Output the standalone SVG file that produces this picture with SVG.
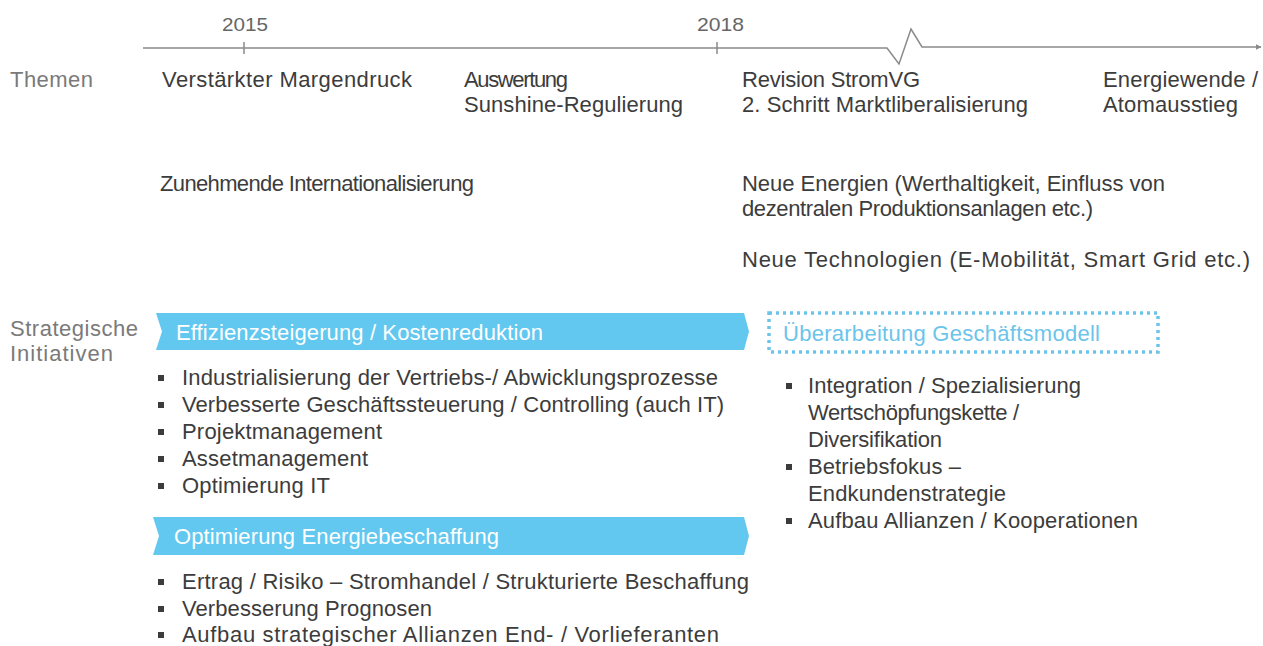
<svg xmlns="http://www.w3.org/2000/svg" width="1263" height="646" viewBox="0 0 1263 646">
<defs>
<style>
text{font-family:"Liberation Sans",Arial,sans-serif;font-size:22px;fill:#3c3c3c}
.lbl{fill:#7a7a7a}
.yr{font-size:19px;fill:#666}
.band{fill:#62c8f0}
.bt{fill:#ffffff}
.dt{fill:#6cc4ea}
.bul{fill:#3c3c3c}
.axis{stroke:#8a8a8a;stroke-width:1.5;fill:none}
</style>
<marker id="arr" viewBox="0 0 10 10" refX="9" refY="5" markerWidth="6" markerHeight="6" orient="auto" markerUnits="userSpaceOnUse">
<path d="M0,0 L10,5 L0,10 z" fill="#8a8a8a"/>
</marker>
</defs>
<rect width="1263" height="646" fill="#ffffff"/>

<g id="timeline">
<path class="axis" d="M143,48 L887,48 L899,64 L911,29 L922,47 L1261,47" marker-end="url(#arr)"/>
<line class="axis" x1="244" y1="42" x2="244" y2="54"/>
<line class="axis" x1="717" y1="42" x2="717" y2="54"/>
<text class="yr" x="222" y="31" textLength="46" lengthAdjust="spacingAndGlyphs">2015</text>
<text class="yr" x="697" y="31" textLength="47" lengthAdjust="spacingAndGlyphs">2018</text>
</g>

<g id="themen-label"><text class="lbl" x="10" y="87" textLength="83">Themen</text></g>
<g id="t-margendruck"><text x="162" y="87" textLength="250">Verstärkter Margendruck</text></g>
<g id="t-sunshine">
<text x="464" y="87" textLength="104">Auswertung</text>
<text x="464" y="112" textLength="219">Sunshine-Regulierung</text>
</g>
<g id="t-stromvg">
<text x="742" y="87" textLength="178">Revision StromVG</text>
<text x="742" y="112" textLength="286">2. Schritt Marktliberalisierung</text>
</g>
<g id="t-energiewende">
<text x="1103" y="87" textLength="155">Energiewende /</text>
<text x="1103" y="112" textLength="135">Atomausstieg</text>
</g>
<g id="t-international"><text x="160" y="191" textLength="314">Zunehmende Internationalisierung</text></g>
<g id="t-energien">
<text x="742" y="191" textLength="423">Neue Energien (Werthaltigkeit, Einfluss von</text>
<text x="742" y="216" textLength="351">dezentralen Produktionsanlagen etc.)</text>
</g>
<g id="t-technologien"><text x="742" y="267" textLength="508">Neue Technologien (E-Mobilität, Smart Grid etc.)</text></g>

<g id="si-label">
<text class="lbl" x="10" y="336" textLength="128">Strategische</text>
<text class="lbl" x="10" y="361" textLength="103">Initiativen</text>
</g>

<g id="init-effizienz">
<path class="band" d="M156,313 L744,313 L749,331.5 L744,350 L156,350 L162,331.5 z"/>
<text class="bt" x="176" y="340" textLength="367">Effizienzsteigerung / Kostenreduktion</text>
<rect class="bul" x="158" y="375" width="6" height="6"/>
<rect class="bul" x="158" y="402" width="6" height="6"/>
<rect class="bul" x="158" y="429" width="6" height="6"/>
<rect class="bul" x="158" y="456" width="6" height="6"/>
<rect class="bul" x="158" y="483" width="6" height="6"/>
<text x="182" y="385" textLength="536">Industrialisierung der Vertriebs-/ Abwicklungsprozesse</text>
<text x="182" y="412" textLength="542">Verbesserte Geschäftssteuerung / Controlling (auch IT)</text>
<text x="182" y="439" textLength="200">Projektmanagement</text>
<text x="182" y="466" textLength="186">Assetmanagement</text>
<text x="182" y="493" textLength="148">Optimierung IT</text>
</g>

<g id="init-energie">
<path class="band" d="M153,517 L744,517 L749,536 L744,555 L153,555 L159,536 z"/>
<text class="bt" x="174" y="544" textLength="325">Optimierung Energiebeschaffung</text>
<rect class="bul" x="158" y="579" width="6" height="6"/>
<rect class="bul" x="158" y="606" width="6" height="6"/>
<rect class="bul" x="158" y="632" width="6" height="6"/>
<text x="182" y="589" textLength="567">Ertrag / Risiko – Stromhandel / Strukturierte Beschaffung</text>
<text x="182" y="616" textLength="250">Verbesserung Prognosen</text>
<text x="182" y="642" textLength="537">Aufbau strategischer Allianzen End- / Vorlieferanten</text>
</g>

<g id="init-geschaeftsmodell">
<rect x="769" y="313" width="389" height="39" fill="none" stroke="#6cc4ea" stroke-width="3.5" stroke-dasharray="3 4"/>
<text class="dt" x="783" y="341" textLength="317">Überarbeitung Geschäftsmodell</text>
<rect class="bul" x="786" y="383" width="6" height="6"/>
<rect class="bul" x="786" y="464" width="6" height="6"/>
<rect class="bul" x="786" y="518" width="6" height="6"/>
<text x="808" y="393" textLength="273">Integration / Spezialisierung</text>
<text x="808" y="420" textLength="211">Wertschöpfungskette /</text>
<text x="808" y="447" textLength="134">Diversifikation</text>
<text x="808" y="474" textLength="153">Betriebsfokus –</text>
<text x="808" y="501" textLength="198">Endkundenstrategie</text>
<text x="808" y="528" textLength="330">Aufbau Allianzen / Kooperationen</text>
</g>
<g id="connectors"></g>
</svg>
